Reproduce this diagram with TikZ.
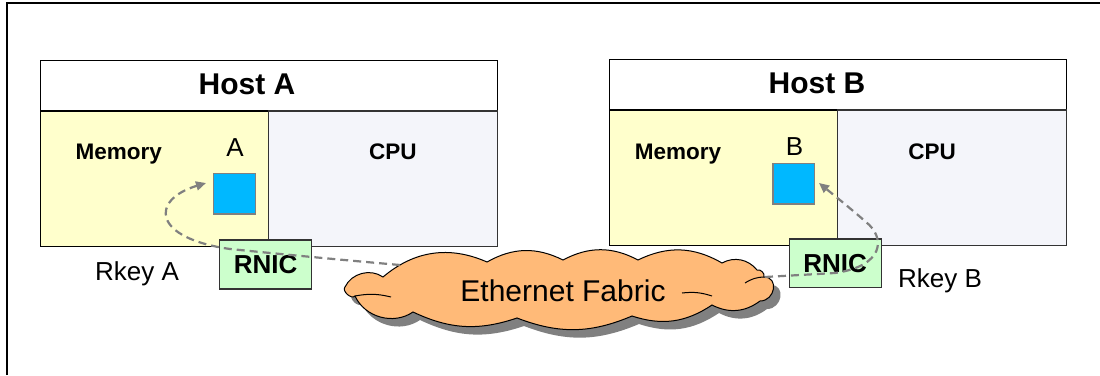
\documentclass[tikz,border=0pt]{standalone}
\usepackage{fontspec}
\setmainfont{Liberation Sans}
\usetikzlibrary{arrows.meta}
\definecolor{memfill}{HTML}{FFFFCC}
\definecolor{cpufill}{HTML}{F4F5FA}
\definecolor{blkfill}{HTML}{00B8FF}
\definecolor{rnicfill}{HTML}{CCFFCC}
\definecolor{cloudfill}{HTML}{FFBA78}
\definecolor{dashgray}{HTML}{808080}
\def\cloudpath{(345,287) to[bend left=50] (383,277) to[bend left=32] (487,262)
  to[bend left=28] (563,260) to[bend left=28] (638,260) to[bend left=28] (722,263)
  to[bend left=40] (757,270) to[bend left=60] (764,277)
  to[out=0,in=0,looseness=1.6] (760,301) to[bend left=32] (712,305)
  to[bend left=26] (632,316) to[bend left=22] (517,318) to[bend left=22] (413,312)
  to[bend left=50] (355,296) to[bend left=90] (345,287) -- cycle}
\begin{document}
\begin{tikzpicture}[x=1pt,y=-1pt,
  panel/.style={draw=black, line width=1.5pt, inner sep=0pt, outer sep=0pt, anchor=north west},
  titlebox/.style={panel, fill=white},
  membox/.style={panel, fill=memfill},
  cpubox/.style={panel, fill=cpufill, draw=black!80},
  memblock/.style={draw=dashgray, line width=1.2pt, fill=blkfill, anchor=north west, inner sep=0pt},
  rnic/.style={draw=black!80, line width=1.2pt, fill=rnicfill, anchor=north west, inner sep=0pt,
    font=\fontsize{26}{30}\selectfont\bfseries},
  lbl/.style={inner sep=0pt, text depth=0pt},
  bigbold/.style={lbl, font=\fontsize{30}{36}\selectfont\bfseries, text height=21.5pt},
  midbold/.style={lbl, font=\fontsize{22.5}{27}\selectfont\bfseries, text height=16.1pt},
  plain/.style={lbl, font=\fontsize{26}{31}\selectfont, text height=18.6pt},
  flow/.style={draw=dashgray, line width=2.2pt, dash pattern=on 8pt off 5pt,
    -{Triangle[length=10pt,width=9pt]}},
  cloudline/.style={draw=black, line width=1pt},
  cloudshadow/.style={fill=dashgray}
]
\useasboundingbox (0,0) rectangle (1100,375);
\draw[line width=1.2pt] (7,375) -- (7,3) -- (1100,3);

% Host A
\node[titlebox, minimum width=457pt, minimum height=51pt] (titleA) at (40.3,60.3) {};
\node[membox, minimum width=228.4pt, minimum height=135.7pt] (memA) at (40.3,111) {};
\node[cpubox, minimum width=228.7pt, minimum height=135.7pt] (cpuA) at (268.7,111) {};
\node[bigbold] (hostAtxt) at (247,83.3) {Host A};
\node[midbold] (memAtxt) at (118.7,151.7) {Memory};
\node[midbold] (cpuAtxt) at (392.8,151.7) {CPU};
\node[plain] (Atxt) at (235,146.7) {A};
\node[memblock, minimum width=41.6pt, minimum height=40.6pt] (blockA) at (213,172.7) {};
\node[rnic, minimum width=92pt, minimum height=49pt] (rnicA) at (219,239.3) {RNIC};
\node[plain] (rkeyA) at (137,270.7) {Rkey A};

% Host B
\node[titlebox, minimum width=457pt, minimum height=51pt] (titleB) at (609.6,59.3) {};
\node[membox, minimum width=228pt, minimum height=135.7pt] (memB) at (609.6,110) {};
\node[cpubox, minimum width=229.1pt, minimum height=135.7pt] (cpuB) at (837.6,110) {};
\node[bigbold] (hostBtxt) at (817,82.7) {Host B};
\node[midbold] (memBtxt) at (678,151.7) {Memory};
\node[midbold] (cpuBtxt) at (932,151.7) {CPU};
\node[plain] (Btxt) at (794.5,145.7) {B};
\node[memblock, minimum width=41.4pt, minimum height=40.6pt] (blockB) at (772.4,162.7) {};
\node[rnic, minimum width=92pt, minimum height=48.4pt] (rnicB) at (788.5,238.3) {RNIC};
\node[plain] (rkeyB) at (940,278.3) {Rkey B};

% Fabric cloud
\fill[cloudshadow, shift={(7,8)}] \cloudpath;
\path[cloudline, fill=cloudfill] \cloudpath;
\draw[cloudline] (355,296) to[bend left=12] (391,297);
\draw[cloudline] (682,293) to[bend left=12] (712,296);
\draw[cloudline] (745,283) to[bend left=15] (764,277);
\node[plain, font=\fontsize{30}{36}\selectfont, text height=21.5pt] (fab) at (563,291) {Ethernet Fabric};

% flows
\coordinate (fabA) at (400,265);
\coordinate (tipA) at (206,183);
\draw[flow] (fabA) .. controls (320,258) and (260,252) .. (230,249)
  .. controls (152,238) and (150,200) .. (tipA);
\coordinate (fabB) at (765,277);
\coordinate (tipB) at (819,183);
\draw[flow] (fabB) -- (835,273) .. controls (884,266) and (886,238) .. (866,222)
  .. controls (850,208) and (835,196) .. (tipB);
\end{tikzpicture}
\end{document}
